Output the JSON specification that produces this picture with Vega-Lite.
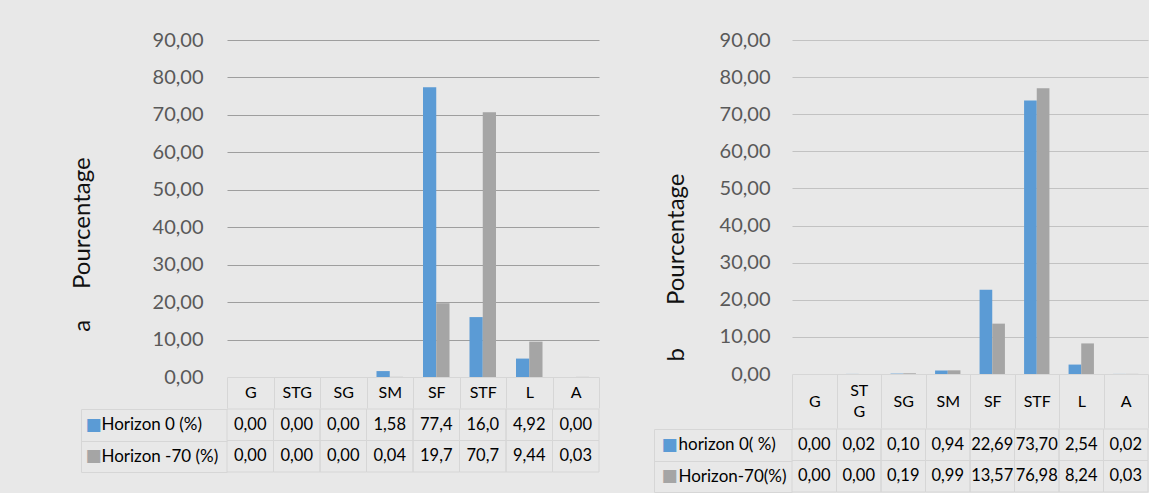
{
  "$schema": "https://vega.github.io/schema/vega-lite/v6.json",
  "background": "#e8e8e8",
  "padding": {"left": 70, "top": 30, "right": 0, "bottom": 0},
  "spacing": 53,
  "config": {
    "view": {"stroke": null},
    "font": "Lato",
    "concat": {"spacing": 0}
  },
  "datasets": {
    "a": [
      {"cat": "G", "series": "Horizon 0 (%)", "value": 0.0, "label": "0,00"},
      {"cat": "STG", "series": "Horizon 0 (%)", "value": 0.0, "label": "0,00"},
      {"cat": "SG", "series": "Horizon 0 (%)", "value": 0.0, "label": "0,00"},
      {"cat": "SM", "series": "Horizon 0 (%)", "value": 1.58, "label": "1,58"},
      {"cat": "SF", "series": "Horizon 0 (%)", "value": 77.4, "label": "77,4"},
      {"cat": "STF", "series": "Horizon 0 (%)", "value": 16.0, "label": "16,0"},
      {"cat": "L", "series": "Horizon 0 (%)", "value": 4.92, "label": "4,92"},
      {"cat": "A", "series": "Horizon 0 (%)", "value": 0.0, "label": "0,00"},
      {"cat": "G", "series": "Horizon -70 (%)", "value": 0.0, "label": "0,00"},
      {"cat": "STG", "series": "Horizon -70 (%)", "value": 0.0, "label": "0,00"},
      {"cat": "SG", "series": "Horizon -70 (%)", "value": 0.0, "label": "0,00"},
      {"cat": "SM", "series": "Horizon -70 (%)", "value": 0.04, "label": "0,04"},
      {"cat": "SF", "series": "Horizon -70 (%)", "value": 19.7, "label": "19,7"},
      {"cat": "STF", "series": "Horizon -70 (%)", "value": 70.7, "label": "70,7"},
      {"cat": "L", "series": "Horizon -70 (%)", "value": 9.44, "label": "9,44"},
      {"cat": "A", "series": "Horizon -70 (%)", "value": 0.03, "label": "0,03"}
    ],
    "b": [
      {"cat": "G", "series": "horizon 0( %)", "value": 0.0, "label": "0,00"},
      {"cat": "STG", "series": "horizon 0( %)", "value": 0.02, "label": "0,02"},
      {"cat": "SG", "series": "horizon 0( %)", "value": 0.1, "label": "0,10"},
      {"cat": "SM", "series": "horizon 0( %)", "value": 0.94, "label": "0,94"},
      {"cat": "SF", "series": "horizon 0( %)", "value": 22.69, "label": "22,69"},
      {"cat": "STF", "series": "horizon 0( %)", "value": 73.7, "label": "73,70"},
      {"cat": "L", "series": "horizon 0( %)", "value": 2.54, "label": "2,54"},
      {"cat": "A", "series": "horizon 0( %)", "value": 0.02, "label": "0,02"},
      {"cat": "G", "series": "Horizon-70(%)", "value": 0.0, "label": "0,00"},
      {"cat": "STG", "series": "Horizon-70(%)", "value": 0.0, "label": "0,00"},
      {"cat": "SG", "series": "Horizon-70(%)", "value": 0.19, "label": "0,19"},
      {"cat": "SM", "series": "Horizon-70(%)", "value": 0.99, "label": "0,99"},
      {"cat": "SF", "series": "Horizon-70(%)", "value": 13.57, "label": "13,57"},
      {"cat": "STF", "series": "Horizon-70(%)", "value": 76.98, "label": "76,98"},
      {"cat": "L", "series": "Horizon-70(%)", "value": 8.24, "label": "8,24"},
      {"cat": "A", "series": "Horizon-70(%)", "value": 0.03, "label": "0,03"}
    ]
  },
  "resolve": {"scale": {"y": "independent", "color": "independent", "x": "independent", "xOffset": "independent"}},
  "hconcat": [
    {
      "spacing": -9,
      "vconcat": [
        {
          "width": 372,
          "height": 337,
          "data": {"name": "a"},
          "mark": {"type": "bar"},
          "encoding": {
            "x": {
              "field": "cat", "type": "nominal",
              "sort": ["G", "STG", "SG", "SM", "SF", "STF", "L", "A"],
              "scale": {"paddingInner": 0, "paddingOuter": 0},
              "axis": {
                "title": null, "orient": "bottom", "labelAngle": 0,
                "domainColor": "#d6d6d6", "tickColor": "#d6d6d6", "tickBand": "extent",
                "tickSize": 31, "labelFontSize": 16, "labelColor": "#000000",
                "labelBaseline": "middle", "labelPadding": -15.5, "grid": false
              }
            },
            "xOffset": {
              "field": "series", "type": "nominal",
              "sort": ["Horizon 0 (%)", "Horizon -70 (%)"],
              "scale": {"paddingInner": 0, "paddingOuter": 0.755}
            },
            "y": {
              "field": "value", "type": "quantitative",
              "scale": {"domain": [0, 90], "nice": false},
              "axis": {
                "title": "a\u00a0\u00a0\u00a0\u00a0\u00a0Pourcentage",
                "values": [0, 10, 20, 30, 40, 50, 60, 70, 80, 90],
                "format": ".2f",
                "labelExpr": "replace(datum.label, '.', ',')",
                "domain": false, "ticks": false, "labelPadding": 24,
                "labelFontSize": 20, "labelColor": "#595959",
                "grid": true,
                "gridColor": {"condition": {"test": "datum.value === 0", "value": "transparent"}, "value": "#9e9e9e"},
                "titleFontSize": 24, "titleFontWeight": "normal", "titleColor": "#111111",
                "titlePadding": 58, "titleY": 204
              }
            },
            "color": {
              "field": "series", "type": "nominal",
              "scale": {"domain": ["Horizon 0 (%)", "Horizon -70 (%)"], "range": ["#5b9bd5", "#a5a5a5"]},
              "legend": null
            }
          }
        },
        {
          "width": 372,
          "height": 63,
          "data": {"name": "a"},
          "layer": [
            {
              "mark": {"type": "rect", "fill": "transparent", "stroke": "#d6d6d6", "strokeWidth": 1},
              "encoding": {
                "x": {"field": "cat", "type": "nominal", "sort": ["G", "STG", "SG", "SM", "SF", "STF", "L", "A"], "scale": {"paddingInner": 0, "paddingOuter": 0}, "axis": null},
                "y": {
                  "field": "series", "type": "nominal",
                  "sort": ["Horizon 0 (%)", "Horizon -70 (%)"],
                  "scale": {"paddingInner": 0, "paddingOuter": 0},
                  "axis": {
                    "orient": "left", "title": null, "domain": false,
                    "ticks": true, "tickBand": "extent", "tickSize": 146, "tickColor": "#d6d6d6",
                    "labelAlign": "left", "labelBaseline": "middle", "labelPadding": -20,
                    "labelFontSize": 17, "labelColor": "#000000"
                  }
                }
              }
            },
            {
              "mark": {"type": "text", "fontSize": 16.5, "color": "#000000"},
              "encoding": {
                "x": {"field": "cat", "type": "nominal", "sort": ["G", "STG", "SG", "SM", "SF", "STF", "L", "A"], "axis": null},
                "y": {
                  "field": "series", "type": "nominal",
                  "sort": ["Horizon 0 (%)", "Horizon -70 (%)"],
                  "axis": {
                    "orient": "left", "offset": 146, "title": null,
                    "domain": true, "domainColor": "#d6d6d6", "ticks": false,
                    "labelExpr": "'■'", "labelFont": "DejaVu Sans",
                    "labelColor": {"condition": {"test": "datum.value === 'Horizon 0 (%)'", "value": "#5b9bd5"}, "value": "#a5a5a5"},
                    "labelAlign": "left", "labelBaseline": "middle", "labelPadding": -4, "labelFontSize": 17
                  }
                },
                "text": {"field": "label"}
              }
            }
          ],
          "resolve": {"axis": {"y": "independent"}}
        }
      ]
    },
    {
      "spacing": -9,
      "vconcat": [
        {
          "width": 356,
          "height": 334,
          "data": {"name": "b"},
          "mark": {"type": "bar"},
          "encoding": {
            "x": {
              "field": "cat", "type": "nominal",
              "sort": ["G", "STG", "SG", "SM", "SF", "STF", "L", "A"],
              "scale": {"paddingInner": 0, "paddingOuter": 0},
              "axis": {
                "title": null, "orient": "bottom", "labelAngle": 0,
                "domainColor": "#d6d6d6", "tickColor": "#d6d6d6", "tickBand": "extent",
                "tickSize": 54, "labelFontSize": 16, "labelColor": "#000000",
                "labelExpr": "datum.value === 'STG' ? ['ST', 'G'] : datum.value",
                "labelLineHeight": 21,
                "labelBaseline": "middle",
                "labelPadding": {"condition": {"test": "datum.value === 'STG'", "value": -37.5}, "value": -27},
                "grid": false
              }
            },
            "xOffset": {
              "field": "series", "type": "nominal",
              "sort": ["horizon 0( %)", "Horizon-70(%)"],
              "scale": {"paddingInner": 0, "paddingOuter": 0.755}
            },
            "y": {
              "field": "value", "type": "quantitative",
              "scale": {"domain": [0, 90], "nice": false},
              "axis": {
                "title": "b\u00a0\u00a0\u00a0\u00a0\u00a0\u00a0\u00a0Pourcentage",
                "values": [0, 10, 20, 30, 40, 50, 60, 70, 80, 90],
                "format": ".2f",
                "labelExpr": "replace(datum.label, '.', ',')",
                "domain": false, "ticks": false, "labelPadding": 22,
                "labelFontSize": 20, "labelColor": "#595959",
                "grid": true,
                "gridColor": {"condition": {"test": "datum.value === 0", "value": "transparent"}, "value": "#c2c2c2"},
                "titleFontSize": 24, "titleFontWeight": "normal", "titleColor": "#111111",
                "titlePadding": 31, "titleY": 227
              }
            },
            "color": {
              "field": "series", "type": "nominal",
              "scale": {"domain": ["horizon 0( %)", "Horizon-70(%)"], "range": ["#5b9bd5", "#a5a5a5"]},
              "legend": null
            }
          }
        },
        {
          "width": 356,
          "height": 63,
          "data": {"name": "b"},
          "layer": [
            {
              "mark": {"type": "rect", "fill": "transparent", "stroke": "#d6d6d6", "strokeWidth": 1},
              "encoding": {
                "x": {"field": "cat", "type": "nominal", "sort": ["G", "STG", "SG", "SM", "SF", "STF", "L", "A"], "scale": {"paddingInner": 0, "paddingOuter": 0}, "axis": null},
                "y": {
                  "field": "series", "type": "nominal",
                  "sort": ["horizon 0( %)", "Horizon-70(%)"],
                  "scale": {"paddingInner": 0, "paddingOuter": 0},
                  "axis": {
                    "orient": "left", "title": null, "domain": false,
                    "ticks": true, "tickBand": "extent", "tickSize": 138, "tickColor": "#d6d6d6",
                    "labelAlign": "left", "labelBaseline": "middle", "labelPadding": -24,
                    "labelFontSize": 17, "labelColor": "#000000"
                  }
                }
              }
            },
            {
              "mark": {"type": "text", "fontSize": 16.5, "color": "#000000"},
              "encoding": {
                "x": {"field": "cat", "type": "nominal", "sort": ["G", "STG", "SG", "SM", "SF", "STF", "L", "A"], "axis": null},
                "y": {
                  "field": "series", "type": "nominal",
                  "sort": ["horizon 0( %)", "Horizon-70(%)"],
                  "axis": {
                    "orient": "left", "offset": 138, "title": null,
                    "domain": true, "domainColor": "#d6d6d6", "ticks": false,
                    "labelExpr": "'■'", "labelFont": "DejaVu Sans",
                    "labelColor": {"condition": {"test": "datum.value === 'horizon 0( %)'", "value": "#5b9bd5"}, "value": "#a5a5a5"},
                    "labelAlign": "left", "labelBaseline": "middle", "labelPadding": -7, "labelFontSize": 17
                  }
                },
                "text": {"field": "label"}
              }
            }
          ],
          "resolve": {"axis": {"y": "independent"}}
        }
      ]
    }
  ]
}
